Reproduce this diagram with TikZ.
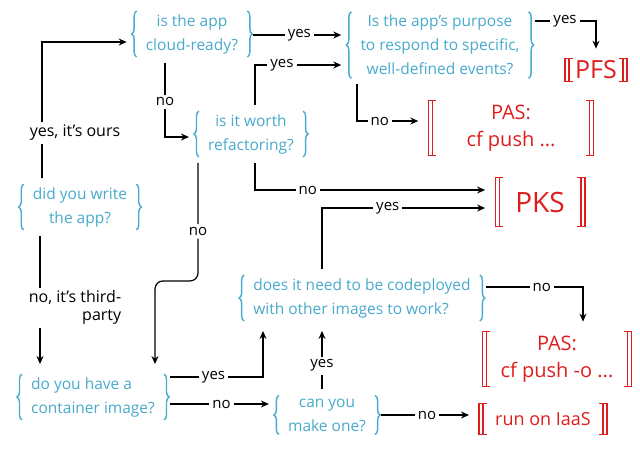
\documentclass[tikz,border=0pt]{standalone}
\usepackage{fontspec}
\setmainfont{Open Sans}
\usetikzlibrary{arrows.meta,decorations.pathreplacing,calc}

\definecolor{qblue}{RGB}{72,170,204}
\definecolor{pred}{RGB}{222,30,28}

\begin{document}
\begin{tikzpicture}[
  x=1pt,y=1pt,
  >={Stealth[length=8pt,width=7pt]},
  qbrace/.style={qblue,line width=1.4pt,decorate,decoration={brace,amplitude=5pt}},
  rbracket/.style={pred,line width=1.2pt},
  question/.style={text=qblue,align=center,inner xsep=9pt,inner ysep=3pt,
    font=\fontsize{15.5}{24}\selectfont,
    append after command={\pgfextra{
      \draw[qbrace] (\tikzlastnode.south west) -- (\tikzlastnode.north west);
      \draw[qbrace] (\tikzlastnode.north east) -- (\tikzlastnode.south east);}}},
  result/.style={text=pred,align=center,inner xsep=12pt,inner ysep=4pt,
    font=\fontsize{20}{27}\selectfont,
    append after command={\pgfextra{
      \draw[rbracket] ([xshift=8pt]\tikzlastnode.north west) -- (\tikzlastnode.north west)
        -- (\tikzlastnode.south west) -- ([xshift=8pt]\tikzlastnode.south west)
        ([xshift=4pt]\tikzlastnode.north west) -- ([xshift=4pt]\tikzlastnode.south west);
      \draw[rbracket] ([xshift=-8pt]\tikzlastnode.north east) -- (\tikzlastnode.north east)
        -- (\tikzlastnode.south east) -- ([xshift=-8pt]\tikzlastnode.south east)
        ([xshift=-4pt]\tikzlastnode.north east) -- ([xshift=-4pt]\tikzlastnode.south east);}}},
  lbl/.style={font=\fontsize{15}{18}\selectfont,fill=white,inner sep=3pt},
  flow/.style={->,line width=1.2pt,shorten >=10pt,shorten <=6pt},
]
\path[use as bounding box,fill=white] (0,0) rectangle (640,-453);

% questions
\node[question] (Q1) at (80,-207) {did you write\\the app?};
\node[question] (Q2) at (192,-34) {is the app\\cloud-ready?};
\node[question] (Q3) at (251,-134) {is it worth\\refactoring?};
\node[question] (Q4) at (440,-45) {Is the app's purpose\\to respond to specific,\\well-defined events?};
\node[question,align=left] (Q5) at (362,-298) {does it need to be codeployed\\with other images to work?};
\node[question,align=left] (Q6) at (93,-397) {do you have a\\container image?};
\node[question] (Q7) at (327,-415) {can you\\make one?};

% answers
\node[result,inner xsep=10pt,inner ysep=2pt,font=\fontsize{25}{25}\selectfont] (PFS) at (596,-70) {PFS};
\node[result,inner xsep=38pt] (PASpush) at (511,-128) {PAS:\\cf push ...};
\node[result,inner xsep=20pt,inner ysep=14pt,font=\fontsize{28}{28}\selectfont] (PKS) at (540,-202) {PKS};
\node[result,inner xsep=18pt] (PASdocker) at (557,-359) {PAS:\\cf push -o ...};
\node[result,inner xsep=16pt,inner ysep=9pt,font=\fontsize{18}{20}\selectfont] (IaaS) at (543,-419) {run on IaaS};

% connectors
\draw[flow] (Q1.north -| 42,0) |- node[lbl,pos=0.18,xshift=33pt,font=\fontsize{16}{18}\selectfont]{yes, it's ours} ([yshift=-8pt]Q2.west);
\draw[flow] (Q1.south -| 40,0) -- node[lbl,pos=0.54,xshift=35pt,align=right,font=\fontsize{16}{18}\selectfont]{no, it's third-\\party} (Q6.north -| 40,0);
\draw[flow] ([yshift=-1pt]Q2.east) -- node[lbl]{yes} ([yshift=-1pt]Q2.east -| Q4.west);
\draw[flow] (Q2.south -| 165,0) |- node[lbl,pos=0.28]{no} ([yshift=-3pt]Q3.west);
\draw[flow] (Q3.north -| 255,0) |- node[lbl,pos=0.64]{yes} ([yshift=-20pt]Q4.west);
\draw[flow] (Q3.south -| 255,0) |- node[lbl,pos=0.61]{no} ([yshift=12pt]PKS.west);
\draw[flow,rounded corners=8pt] (Q3.south -| 198,0) -- node[lbl,pos=0.6]{no} ++(0,-124) -| (Q6.north -| 155,0);
\draw[flow] ([yshift=24pt]Q4.east) -| node[lbl,pos=0.27]{yes} (PFS.north);
\draw[flow] (Q4.south -| 357,0) |- node[lbl,pos=0.66]{no} ([yshift=7pt]PASpush.west);
\draw[flow] (Q5.north -| 322,0) |- node[lbl,pos=0.69]{yes} ([yshift=-6pt]PKS.west);
\draw[flow] ([yshift=11pt]Q5.east) -| node[lbl,pos=0.3]{no} (PASdocker.north -| 583,0);
\draw[flow] ([yshift=20pt]Q6.east) -| node[lbl,pos=0.25]{yes} (Q5.south -| 263,0);
\draw[flow] ([yshift=-7pt]Q6.east) -- node[lbl]{no} ([yshift=-7pt]Q6.east -| Q7.west);
\draw[flow] (Q7.north -| 322,0) -- node[lbl,pos=0.4]{yes} (Q5.south -| 322,0);
\draw[flow] (Q7.east) -- node[lbl]{no} (Q7.east -| IaaS.west);

\end{tikzpicture}
\end{document}
